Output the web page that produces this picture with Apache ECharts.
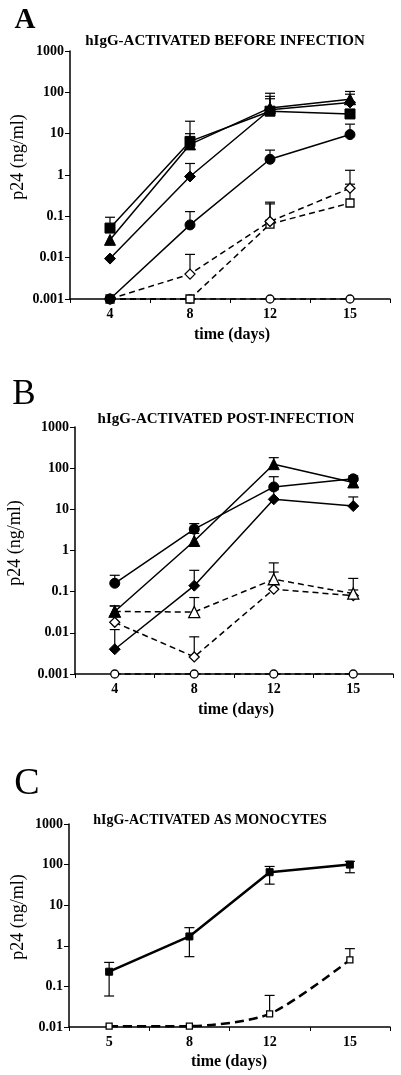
<!DOCTYPE html>
<html><head><meta charset="utf-8">
<script src="https://cdn.jsdelivr.net/npm/echarts@6/dist/echarts.min.js"></script>
<style>html,body{margin:0;padding:0;background:#fff}#c{width:401px;height:1075px}</style>
</head><body><div id="c"></div>
<script>
// ---------- data ----------
const catsA = ['4','8','12','15'];
const catsB = ['4','8','12','15'];
const catsC = ['5','8','12','15'];
const yTicksAB = ['0.001','0.01','0.1','1','10','100','1000'];
const yTicksC = ['0.01','0.1','1','10','100','1000'];

// Panel A (value, upper error)
const aFilledSquare   = [0.052, 6.5, 35, 30];
const aFilledSquareHi = [0.095, 20, 80, null];
const aFilledTriangle   = [0.027, 5.5, 42, 68];
const aFilledTriangleHi = [null, 10, 95, 105];
const aFilledDiamond   = [0.0095, 0.92, 38, 57];
const aFilledDiamondHi = [null, 1.9, 70, 90];
const aFilledCircle   = [0.001, 0.062, 2.4, 9.5];
const aFilledCircleHi = [null, 0.13, 4, 17];
const aOpenDiamond   = [0.001, 0.004, 0.075, 0.48];
const aOpenDiamondHi = [null, 0.012, 0.22, 1.3];
const aOpenSquare   = [0.001, 0.001, 0.065, 0.21];
const aOpenSquareHi = [null, null, 0.2, 0.6];
const aOpenCircle   = [0.001, 0.001, 0.001, 0.001];

// Panel B
const bFilledCircle   = [0.16, 3.3, 35, 55];
const bFilledCircleHi = [0.25, 4.5, 62, 65];
const bFilledTriangle   = [0.033, 1.7, 125, 45];
const bFilledTriangleHi = [0.045, 2.6, 180, 50];
const bFilledDiamond   = [0.004, 0.14, 17.5, 12];
const bFilledDiamondHi = [0.012, 0.33, 30, 20];
const bOpenTriangle   = [0.033, 0.032, 0.2, 0.09];
const bOpenTriangleHi = [0.045, 0.072, 0.5, 0.21];
const bOpenDiamond   = [0.018, 0.0026, 0.115, 0.08];
const bOpenDiamondHi = [null, 0.008, 0.3, 0.11];
const bOpenCircle   = [0.001, 0.001, 0.001, 0.001];

// Panel C (value, lower, upper)
const cFilledSquare   = [0.23, 1.7, 65, 100];
const cFilledSquareLo = [0.058, 0.54, 33, 63];
const cFilledSquareHi = [0.39, 2.8, 90, 120];
const cOpenSquare   = [0.0105, 0.0105, 0.021, 0.45];
const cOpenSquareHi = [null, null, 0.06, 0.85];

// ---------- chart ----------
const SERIF = '"Liberation Serif","DejaVu Serif",serif';
const chart = echarts.init(document.getElementById('c'));

function xAxis(cats, gi) {
  return {
    type: 'category', data: cats, gridIndex: gi, boundaryGap: true,
    axisLine: {lineStyle: {color: '#000', width: 1.5}},
    axisTick: {show: true, length: 4, inside: false, lineStyle: {color: '#000'}},
    axisLabel: {color: '#000', fontFamily: SERIF, fontWeight: 'bold', fontSize: 14, margin: 8},
    splitLine: {show: false}
  };
}
function yAxis(ticks, gi) {
  const min = Number(ticks[0]), max = Number(ticks[ticks.length - 1]);
  return {
    type: 'log', logBase: 10, min: min, max: max, gridIndex: gi,
    axisLine: {show: true, lineStyle: {color: '#000', width: 1.5}},
    axisTick: {show: true, length: 5, lineStyle: {color: '#000'}},
    axisLabel: {color: '#000', fontFamily: SERIF, fontWeight: 'bold', fontSize: 14, margin: 6,
      formatter: v => ticks[Math.round(Math.log10(v) - Math.log10(min))]},
    splitLine: {show: false}, minorTick: {show: false}
  };
}

const series = [];
function lineSeries(gi, data, symbol, filled, dashed, opts) {
  opts = opts || {};
  series.push({
    type: 'line', xAxisIndex: gi, yAxisIndex: gi, data: data,
    symbol: symbol, symbolSize: opts.size || 10, smooth: opts.smooth || false,
    showAllSymbol: true, clip: false, z: 3,
    lineStyle: {color: '#000', width: opts.width || 1.5, type: dashed ? (opts.dash || [6, 4]) : 'solid'},
    itemStyle: filled ? {color: '#000', borderColor: '#000'} : {color: '#fff', borderColor: '#000', borderWidth: 1.3},
    emphasis: {disabled: true}, animation: false
  });
}
function errSeries(gi, vals, hi, lo, cap) {
  const d = [];
  vals.forEach((v, i) => {
    const h = hi ? hi[i] : null, l = lo ? lo[i] : null;
    if (h != null || l != null) d.push([i, v, h == null ? v : h, l == null ? v : l]);
  });
  series.push({
    type: 'custom', xAxisIndex: gi, yAxisIndex: gi, data: d, z: 2, clip: false,
    encode: {x: 0, y: [1, 2, 3]}, animation: false, silent: true,
    renderItem: function (params, api) {
      const x = api.value(0);
      const p = api.coord([x, api.value(1)]);
      const ph = api.coord([x, api.value(2)]);
      const pl = api.coord([x, api.value(3)]);
      const st = {stroke: '#000', lineWidth: 1.2};
      const ch = [];
      if (api.value(2) !== api.value(1)) {
        ch.push({type: 'line', shape: {x1: p[0], y1: p[1], x2: ph[0], y2: ph[1]}, style: st});
        ch.push({type: 'line', shape: {x1: ph[0] - cap, y1: ph[1], x2: ph[0] + cap, y2: ph[1]}, style: st});
      }
      if (api.value(3) !== api.value(1)) {
        ch.push({type: 'line', shape: {x1: p[0], y1: p[1], x2: pl[0], y2: pl[1]}, style: st});
        ch.push({type: 'line', shape: {x1: pl[0] - cap, y1: pl[1], x2: pl[0] + cap, y2: pl[1]}, style: st});
      }
      return {type: 'group', children: ch};
    }
  });
}

// Panel A
errSeries(0, aFilledSquare, aFilledSquareHi, null, 5);
errSeries(0, aFilledTriangle, aFilledTriangleHi, null, 5);
errSeries(0, aFilledDiamond, aFilledDiamondHi, null, 5);
errSeries(0, aFilledCircle, aFilledCircleHi, null, 5);
errSeries(0, aOpenDiamond, aOpenDiamondHi, null, 5);
errSeries(0, aOpenSquare, aOpenSquareHi, null, 5);
lineSeries(0, aOpenCircle, 'circle', false, true, {size: 8});
lineSeries(0, aOpenSquare, 'rect', false, true, {size: 8});
lineSeries(0, aOpenDiamond, 'diamond', false, true, {size: 10});
lineSeries(0, aFilledCircle, 'circle', true, false);
lineSeries(0, aFilledDiamond, 'diamond', true, false, {size: 11});
lineSeries(0, aFilledTriangle, 'triangle', true, false, {size: 11});
lineSeries(0, aFilledSquare, 'rect', true, false);

// Panel B
errSeries(1, bFilledCircle, bFilledCircleHi, null, 5);
errSeries(1, bFilledTriangle, bFilledTriangleHi, null, 5);
errSeries(1, bFilledDiamond, bFilledDiamondHi, null, 5);
errSeries(1, bOpenTriangle, bOpenTriangleHi, null, 5);
errSeries(1, bOpenDiamond, bOpenDiamondHi, null, 5);
lineSeries(1, bOpenCircle, 'circle', false, true, {size: 8});
lineSeries(1, bOpenDiamond, 'diamond', false, true, {size: 10});
lineSeries(1, bOpenTriangle, 'triangle', false, true, {size: 11});
lineSeries(1, bFilledDiamond, 'diamond', true, false, {size: 11});
lineSeries(1, bFilledTriangle, 'triangle', true, false, {size: 11});
lineSeries(1, bFilledCircle, 'circle', true, false);

// Panel C
errSeries(2, cFilledSquare, cFilledSquareHi, cFilledSquareLo, 5);
errSeries(2, cOpenSquare, cOpenSquareHi, null, 5);
lineSeries(2, cOpenSquare, 'rect', false, true, {size: 6, width: 2.5, dash: [9, 5], smooth: 0.25});
lineSeries(2, cFilledSquare, 'rect', true, false, {size: 7, width: 2.5});

const txt = (x, y, text, size, weight, extra) => Object.assign({
  type: 'text', x: x, y: y,
  style: {text: text, fontFamily: SERIF, fontSize: size, fontWeight: weight || 'normal', fill: '#000', textAlign: 'center', textVerticalAlign: 'middle'}
}, extra || {});

const graphic = [
  txt(25, 21, 'A', 29, 'bold'),
  txt(225, 41, 'hIgG-ACTIVATED BEFORE INFECTION', 15, 'bold'),
  txt(18, 157, 'p24 (ng/ml)', 18, 'normal', {rotation: Math.PI / 2}),
  txt(232, 335, 'time (days)', 16, 'bold'),

  txt(24, 395, 'B', 35, 'normal'),
  txt(226, 419, 'hIgG-ACTIVATED POST-INFECTION', 15, 'bold'),
  txt(15, 543, 'p24 (ng/ml)', 18, 'normal', {rotation: Math.PI / 2}),
  txt(236, 710, 'time (days)', 16, 'bold'),

  txt(27, 784, 'C', 38, 'normal'),
  txt(210, 820, 'hIgG-ACTIVATED AS MONOCYTES', 14, 'bold'),
  txt(18, 917, 'p24 (ng/ml)', 18, 'normal', {rotation: Math.PI / 2}),
  txt(229, 1062, 'time (days)', 16, 'bold')
];

chart.setOption({
  animation: false,
  backgroundColor: '#fff',
  grid: [
    {left: 70, right: 11, top: 51, height: 248},
    {left: 75, right: 8, top: 427, height: 247},
    {left: 69, right: 11, top: 824, height: 203}
  ],
  xAxis: [xAxis(catsA, 0), xAxis(catsB, 1), xAxis(catsC, 2)],
  yAxis: [yAxis(yTicksAB, 0), yAxis(yTicksAB, 1), yAxis(yTicksC, 2)],
  series: series,
  graphic: graphic
});
</script></body></html>
